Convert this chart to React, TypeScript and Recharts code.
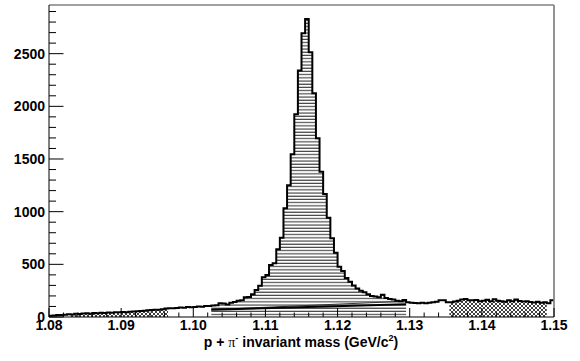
import React from 'react';
import { ComposedChart, Area, Line, XAxis, YAxis, ReferenceLine } from 'recharts';

const X_MIN = 1.08;
const X_MAX = 1.15;
const BIN_WIDTH = 0.0005;
const Y_MAX = 2962;

// counts per 0.5 MeV bin, 1.080 .. 1.150
const counts = [
  12, 15, 20, 18, 22, 25, 24, 30, 28, 33,
  35, 32, 38, 36, 40, 38, 42, 40, 44, 45,
  47, 46, 50, 52, 55, 58, 60, 64, 66, 70,
  68, 74, 80, 82, 84, 86, 90, 88, 94, 92,
  96, 100, 98, 104, 104, 108, 112, 130, 128, 118,
  135, 142, 155, 160, 187, 190, 215, 256, 297, 377,
  399, 494, 510, 643, 753, 1032, 1250, 1545, 1925, 2339,
  2694, 2830, 2513, 2124, 1697, 1380, 1168, 943, 747, 611,
  478, 437, 370, 335, 300, 270, 250, 235, 215, 200,
  195, 188, 212, 180, 172, 165, 155, 150, 162, 140,
  135, 132, 130, 135, 130, 135, 140, 145, 158, 160,
  140, 140, 148, 155, 165, 172, 160, 158, 162, 150,
  155, 163, 150, 168, 155, 150, 145, 160, 150, 165,
  152, 148, 150, 142, 138, 145, 135, 140, 130, 160,
];

const sidebandLeft = [1.083, 1.0965];
const sidebandRight = [1.1355, 1.149];
const signalRange = [1.1025, 1.1295];
const bgLineX = [1.1025, 1.1295];
const bgLineLow = [68, 122];
const bgLineHigh = [70, 150];

const xTickStep = 0.002;
const yTickStep = 100;

const inRange = (x: number, r: number[]) => x >= r[0] - 1e-9 && x <= r[1] + 1e-9;
const r4 = (v: number) => Math.round(v * 10000) / 10000;

const data = Array.from({ length: counts.length + 1 }, (_, i) => {
  const x = r4(X_MIN + i * BIN_WIDTH);
  const v = counts[Math.min(i, counts.length - 1)];
  const row: any = { x, v };
  if (inRange(x, signalRange)) row.sig = v;
  if (inRange(x, sidebandLeft)) row.sbl = v;
  if (inRange(x, sidebandRight)) row.sbr = v;
  const bi = bgLineX.findIndex((b) => Math.abs(b - x) < 1e-9);
  if (bi >= 0) {
    row.bgLo = bgLineLow[bi];
    row.bgHi = bgLineHigh[bi];
  }
  return row;
});

const xTicks = Array.from({ length: Math.round((X_MAX - X_MIN) / xTickStep) + 1 }, (_, k) =>
  Math.round((X_MIN + k * xTickStep) * 1000) / 1000
);
const yTicks = Array.from({ length: 30 }, (_, k) => k * yTickStep);

const FONT = "'Liberation Sans', Arial, Helvetica, sans-serif";

const XTick = (props: any) => {
  const { x, y, payload } = props;
  const v = Number(payload.value);
  const major = Math.abs(v * 100 - Math.round(v * 100)) < 1e-6;
  return (
    <g>
      <line x1={x} y1={y} x2={x} y2={y - (major ? 9 : 4.5)} stroke="#000" strokeWidth={1} />
      {major && (
        <text x={x} y={y + 13} textAnchor="middle" fontFamily={FONT} fontWeight="bold" fontSize={14} fill="#000">
          {v.toFixed(2)}
        </text>
      )}
    </g>
  );
};

const YTick = (props: any) => {
  const { x, y, payload } = props;
  const v = Number(payload.value);
  const major = v % 500 === 0;
  return (
    <g>
      <line x1={x} y1={y} x2={x + (major ? 14.5 : 7)} y2={y} stroke="#000" strokeWidth={1} />
      {major && (
        <text x={x - 4} y={y + 5} textAnchor="end" fontFamily={FONT} fontWeight="bold" fontSize={14} fill="#000">
          {v}
        </text>
      )}
    </g>
  );
};

export default function App() {
  return (
    <div style={{ position: 'absolute', left: 0, top: 0, width: 580, height: 361, background: '#fff' }}>
      <ComposedChart width={580} height={361} data={data} margin={{ top: 5, right: 26, bottom: 0, left: 0 }}>
        <defs>
          <pattern id="hhatch" patternUnits="userSpaceOnUse" width={6} height={3.2}>
            <line x1={0} y1={1} x2={6} y2={1} stroke="#222" strokeWidth={1} />
          </pattern>
          <pattern id="xhatch" patternUnits="userSpaceOnUse" width={4} height={4}>
            <path d="M0,0 L4,4 M4,0 L0,4" stroke="#111" strokeWidth={0.8} />
          </pattern>
        </defs>
        <XAxis
          dataKey="x"
          type="number"
          domain={[X_MIN, X_MAX]}
          allowDataOverflow
          ticks={xTicks}
          interval={0}
          height={44}
          tickSize={0}
          tickMargin={0}
          tick={XTick}
          tickLine={false}
          axisLine={{ stroke: '#000', strokeWidth: 1 }}
        />
        <YAxis
          type="number"
          domain={[0, Y_MAX]}
          allowDataOverflow
          ticks={yTicks}
          interval={0}
          width={49}
          tickSize={0}
          tickMargin={0}
          tick={YTick}
          tickLine={false}
          axisLine={{ stroke: '#000', strokeWidth: 1 }}
        />
        <Area dataKey="sig" type="stepAfter" stroke="none" fill="url(#hhatch)" fillOpacity={1} isAnimationActive={false} connectNulls={false} />
        <Area dataKey="sbl" type="stepAfter" stroke="none" fill="url(#xhatch)" fillOpacity={1} isAnimationActive={false} connectNulls={false} />
        <Area dataKey="sbr" type="stepAfter" stroke="none" fill="url(#xhatch)" fillOpacity={1} isAnimationActive={false} connectNulls={false} />
        <Line dataKey="bgHi" type="linear" stroke="#333" strokeWidth={1} dot={false} connectNulls isAnimationActive={false} />
        <Line dataKey="bgLo" type="linear" stroke="#000" strokeWidth={2} dot={false} connectNulls isAnimationActive={false} />
        <Line dataKey="v" type="stepAfter" stroke="#000" strokeWidth={2} dot={false} isAnimationActive={false} />
        <ReferenceLine y={Y_MAX} stroke="#808080" strokeWidth={1.7} ifOverflow="visible" />
        <ReferenceLine x={X_MAX} stroke="#808080" strokeWidth={1.7} ifOverflow="visible" />
        <text x={301} y={347} textAnchor="middle" fontFamily={FONT} fontWeight="bold" fontSize={14} fill="#000">
          {'p + '}
          <tspan fontFamily="'Liberation Serif', 'DejaVu Serif', serif" fontWeight="normal">π</tspan>
          <tspan fontSize={9} dy={-6}>{'-'}</tspan>
          <tspan dy={6}>{' invariant mass (GeV/c'}</tspan>
          <tspan fontSize={9} dy={-6}>{'2'}</tspan>
          <tspan dy={6}>{')'}</tspan>
        </text>
      </ComposedChart>
    </div>
  );
}
